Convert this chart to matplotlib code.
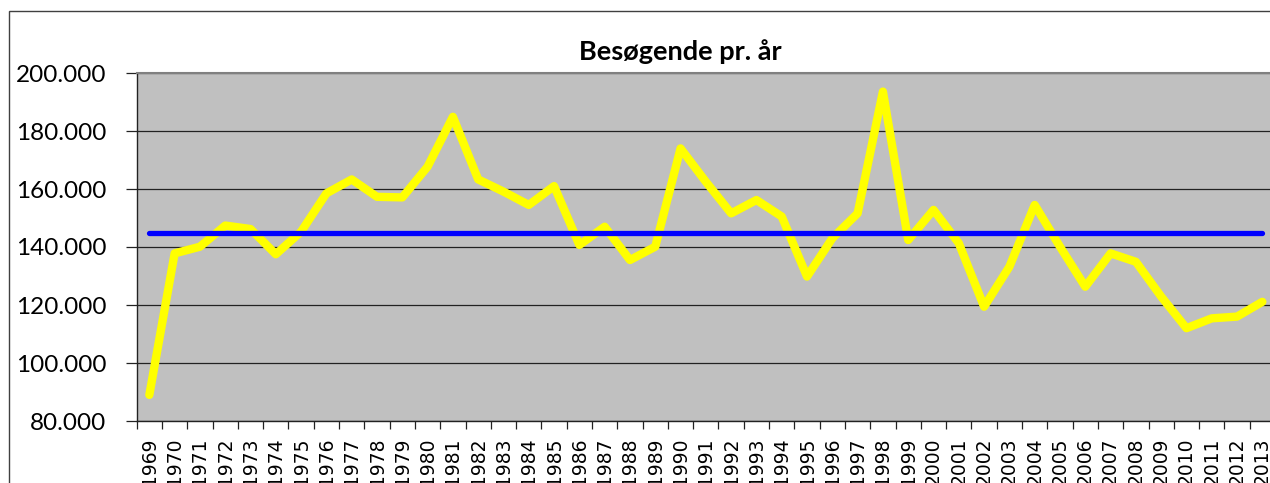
"""Besøgende pr. år - yearly visitors with average line."""

import matplotlib.pyplot as plt
from matplotlib.patches import Rectangle
from matplotlib.ticker import FuncFormatter, MultipleLocator, FixedLocator

years = list(range(1969, 2014))
visitors = [
    89000, 137800, 140100, 147400, 146200, 137500, 145300, 158500, 163300, 157300,
    157100, 167700, 184900, 163300, 159100, 154500, 161000, 140700, 147000, 135500,
    140100, 174000, 162500, 151600, 156200, 150500, 129800, 143000, 151600, 193600,
    142400, 152800, 141300, 119400, 133200, 154500, 140100, 126300, 137800, 134900,
    122900, 112000, 115400, 116000, 121100,
]
average = 144700

W, H = 1270, 483
fig = plt.figure(figsize=(W / 100, H / 100), dpi=100)

# outer chart border (runs off the right and bottom edges)
fig.patches.append(
    Rectangle((9 / W, -0.1), 1.2, 1.1 - 11 / H, transform=fig.transFigure,
              fill=False, edgecolor="#404040", linewidth=1.0)
)

ax = fig.add_axes([136.7 / W, 62 / H, (1275 - 136.7) / W, (421 - 73) / H])
ax.set_facecolor("#C0C0C0")

x = list(range(len(years)))
ax.plot(x, visitors, color="#FFFF00", linewidth=6, solid_joinstyle="round",
        solid_capstyle="round", zorder=3)
ax.plot(x, [average] * len(years), color="#0000FF", linewidth=3.8,
        solid_capstyle="round", zorder=4)

ax.set_xlim(-0.5, len(years) - 0.5)
ax.set_ylim(80000, 200000)
ax.yaxis.set_major_locator(MultipleLocator(20000))
ax.yaxis.set_major_formatter(FuncFormatter(lambda v, _: f"{int(v):,}".replace(",", ".")))
ax.grid(True, axis="y", color="#222222", linewidth=0.9)
ax.set_axisbelow(True)

ax.set_xticks(x)
ax.set_xticklabels([str(y) for y in years], rotation=90, fontsize=13.5,
                   family="DejaVu Sans")
ax.xaxis.set_minor_locator(FixedLocator([i - 0.5 for i in range(len(years) + 1)]))
ax.tick_params(axis="x", which="major", length=0, pad=12)
ax.tick_params(axis="x", which="minor", length=6, width=0.9, color="#222222")
ax.tick_params(axis="y", length=8, width=0.9, color="#222222", pad=14)
for lab in ax.get_yticklabels():
    lab.set_family("Lato")
    lab.set_fontsize(17.5)

for side in ("top", "right"):
    ax.spines[side].set_color("#808080")
    ax.spines[side].set_linewidth(1.5)
for side in ("left", "bottom"):
    ax.spines[side].set_color("#222222")
    ax.spines[side].set_linewidth(1.0)

fig.text(680 / W, 1 - 59.5 / H, "Besøgende pr. år", ha="center", va="baseline",
         fontsize=19.5, fontweight="bold", family="Lato")

fig.savefig("out.png", dpi=100)
